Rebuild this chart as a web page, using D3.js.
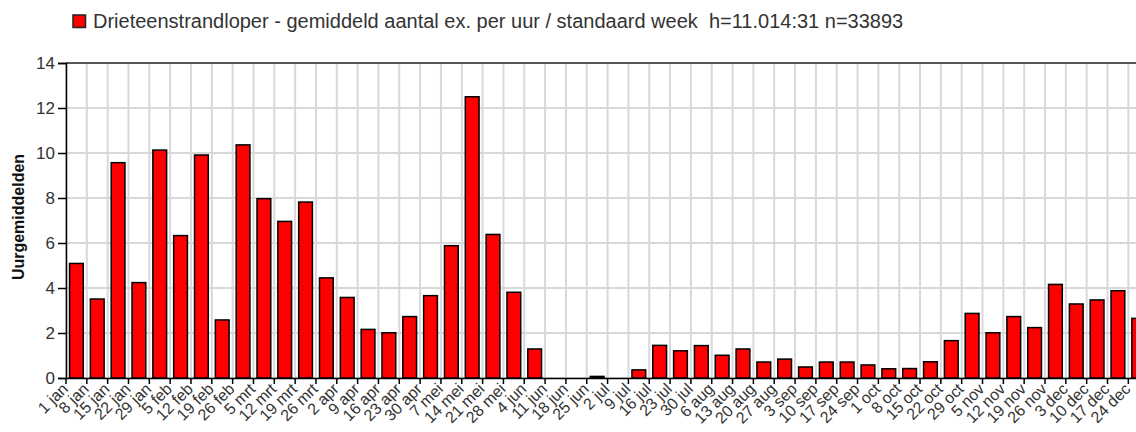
<!DOCTYPE html>
<html>
<head>
<meta charset="utf-8">
<script src="https://cdn.jsdelivr.net/npm/d3@7/dist/d3.min.js"></script>
<style>
html,body{margin:0;padding:0;background:#fff;overflow:hidden;}
svg{display:block;font-family:"Liberation Sans",Arial,sans-serif;}
</style>
</head>
<body>
<svg id="chart" width="1136" height="432"></svg>
<script>
const weeks = ["1 jan","8 jan","15 jan","22 jan","29 jan","5 feb","12 feb","19 feb","26 feb",
  "5 mrt","12 mrt","19 mrt","26 mrt","2 apr","9 apr","16 apr","23 apr","30 apr",
  "7 mei","14 mei","21 mei","28 mei","4 jun","11 jun","18 jun","25 jun",
  "2 jul","9 jul","16 jul","23 jul","30 jul","6 aug","13 aug","20 aug","27 aug",
  "3 sep","10 sep","17 sep","24 sep","1 oct","8 oct","15 oct","22 oct","29 oct",
  "5 nov","12 nov","19 nov","26 nov","3 dec","10 dec","17 dec","24 dec"];
const values = [5.09,3.51,9.57,4.24,10.13,6.33,9.91,2.58,10.36,
  7.97,6.96,7.82,4.45,3.58,2.16,2.01,2.73,3.66,
  5.88,12.5,6.38,3.81,1.29,0,0,0.07,
  0,0.36,1.45,1.21,1.44,1.01,1.29,0.71,0.84,
  0.49,0.71,0.71,0.58,0.41,0.42,0.72,1.66,2.87,
  2.01,2.73,2.24,4.16,3.29,3.47,3.88,2.65];
const yTicks = [0,2,4,6,8,10,12,14];
const legendText = "Drieteenstrandloper - gemiddeld aantal ex. per uur / standaard week  h=11.014:31 n=33893";
const yTitle = "Uurgemiddelden";

(function () {
const svg = d3.select("#chart");
const pLeft = 66, pTop = 63, pBottom = 378;
const step = 20.83;
const pRight = pLeft + step * weeks.length;

const x = d3.scaleBand().domain(weeks).range([pLeft, pRight]).paddingInner(0.34).paddingOuter(0.17);
const xg = d3.scaleBand().domain(weeks).range([pLeft, pRight]).padding(0);
const y = d3.scaleLinear().domain([0, 14]).range([pBottom, pTop]);

// grid
svg.append("g").selectAll("line").data(yTicks).join("line")
  .attr("x1", pLeft).attr("x2", pRight)
  .attr("y1", d => y(d)).attr("y2", d => y(d))
  .attr("stroke", "#d8d8d8").attr("stroke-width", 2);
svg.append("g").selectAll("line").data(weeks).join("line")
  .attr("x1", d => xg(d)).attr("x2", d => xg(d))
  .attr("y1", pTop).attr("y2", pBottom)
  .attr("stroke", "#d8d8d8").attr("stroke-width", 2);

// top border
svg.append("line").attr("x1", pLeft).attr("x2", pRight).attr("y1", pTop).attr("y2", pTop)
  .attr("stroke", "#555").attr("stroke-width", 2);

// bars
svg.append("g").selectAll("rect").data(values).join("rect")
  .attr("x", (d, i) => x(weeks[i]))
  .attr("width", x.bandwidth())
  .attr("y", d => y(d))
  .attr("height", d => pBottom - y(d))
  .attr("fill", d => d > 0 ? "#ff0000" : "none")
  .attr("stroke", d => d > 0 ? "#000" : "none")
  .attr("stroke-width", 1.5);

// y axis
const yAxis = d3.axisLeft(y).tickValues(yTicks).tickSize(8).tickPadding(3).tickFormat(d3.format("d"));
const ya = svg.append("g").attr("transform", `translate(${pLeft},0)`).call(yAxis);
ya.select(".domain").attr("stroke", "#000").attr("stroke-width", 1.5);
ya.selectAll(".tick line").attr("stroke", "#000").attr("stroke-width", 1.5);
ya.selectAll(".tick text").attr("font-size", 17).attr("fill", "#333").attr("font-family", "Liberation Sans, Arial, sans-serif");

// x axis
const xAxis = d3.axisBottom(xg).tickSize(6).tickSizeOuter(0).tickFormat(d => d);
const xa = svg.append("g").attr("transform", `translate(0,${pBottom})`).call(xAxis);
xa.select(".domain").attr("stroke", "#000").attr("stroke-width", 1.5);
xa.selectAll(".tick").attr("transform", d => `translate(${xg(d)},0)`);
xa.selectAll(".tick line").attr("stroke", "#000").attr("stroke-width", 1.5);
xa.selectAll(".tick text")
  .attr("font-size", 16).attr("fill", "#333").attr("font-family", "Liberation Sans, Arial, sans-serif")
  .attr("text-anchor", "end").attr("dy", null).attr("y", 0)
  .attr("transform", "translate(3,12) rotate(-45)");

// y title
svg.append("text")
  .attr("transform", `translate(24,217) rotate(-90)`)
  .attr("text-anchor", "middle")
  .attr("font-size", 16).attr("font-weight", "bold").attr("fill", "#111")
  .text(yTitle);

// legend
svg.append("rect").attr("x", 73).attr("y", 15).attr("width", 12.5).attr("height", 12.5)
  .attr("fill", "#ff0000").attr("stroke", "#222").attr("stroke-width", 1.5);
svg.append("text").attr("x", 93).attr("y", 28)
  .attr("font-size", 20).attr("fill", "#333")
  .attr("xml:space", "preserve").style("white-space", "pre")
  .text(legendText);
})();
</script>
</body>
</html>
